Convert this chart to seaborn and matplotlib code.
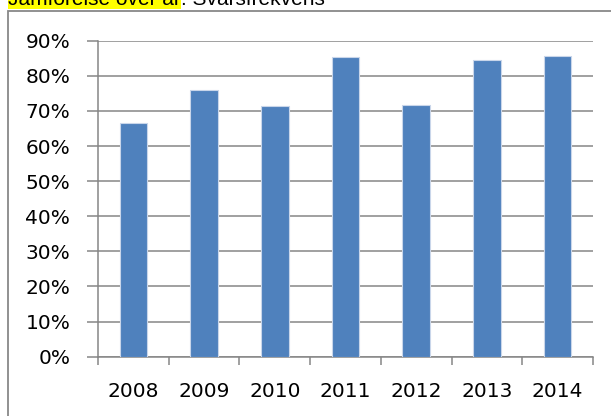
import pandas as pd
import numpy as np
import matplotlib
matplotlib.use("Agg")
import matplotlib.pyplot as plt
import seaborn as sns
from matplotlib.patches import Rectangle

# Chart data
years = ['2008', '2009', '2010', '2011', '2012', '2013', '2014']
response_rate = [0.665, 0.760, 0.715, 0.855, 0.718, 0.844, 0.857]
y_ticks = [0.0, 0.1, 0.2, 0.3, 0.4, 0.5, 0.6, 0.7, 0.8, 0.9]
title_marked = 'Jämförelse över år'
title_rest = ': Svarsfrekvens'

df = pd.DataFrame({'year': years, 'rate': response_rate})

sns.set_style('white')
plt.rcParams['font.family'] = ['DejaVu Sans']
plt.rcParams['text.color'] = 'black'
plt.rcParams['xtick.labelcolor'] = 'black'
plt.rcParams['ytick.labelcolor'] = 'black'

W, H = 611, 416
fig = plt.figure(figsize=(W / 100, H / 100), dpi=100)
ax = fig.add_axes([98 / W, 1 - 356.7 / H, (593 - 98) / W, (356.7 - 40.7) / H])

grid_col = '#868686'
sns.barplot(data=df, x='year', y='rate', color='#4F81BD', width=0.39,
            saturation=1, edgecolor='#c9d6ea', linewidth=0.8, ax=ax, zorder=3)

ax.set_ylim(0, 0.9)
ax.set_xlim(-0.5, len(years) - 0.5)
ax.set_yticks(y_ticks)
ax.set_yticklabels([f'{int(round(t * 100))}%' for t in y_ticks])
ax.yaxis.grid(True, color=grid_col, linewidth=1.1, zorder=0)
ax.set_axisbelow(True)
ax.set_xlabel('')
ax.set_ylabel('')

for s in ['top', 'right']:
    ax.spines[s].set_visible(False)
for s in ['left', 'bottom']:
    ax.spines[s].set_color(grid_col)
    ax.spines[s].set_linewidth(1.1)

ax.tick_params(axis='y', which='major', direction='out', length=8, width=1.1,
               color=grid_col, labelsize=14.5, pad=12, left=True)
ax.tick_params(axis='x', which='major', length=0, labelsize=14.5, pad=18)
ax.set_xticks(np.arange(-0.5, len(years), 1.0), minor=True)
ax.tick_params(axis='x', which='minor', direction='out', length=6, width=1.1,
               color=grid_col, bottom=True)

# outer chart frame
fig.patches.append(Rectangle((8 / W, -0.1), 1.2, 1 - 11 / H + 0.1,
                             transform=fig.transFigure, fill=False,
                             edgecolor='#888888', linewidth=1.3))

# title above the frame, partly cut off at the top
t1 = fig.text(8 / W, 1 - 5 / H, title_marked, fontsize=15, va='baseline',
              ha='left', family=['Liberation Sans', 'DejaVu Sans'],
              bbox=dict(facecolor='#ffff00', edgecolor='none', pad=0))
fig.canvas.draw()
ax.annotate(title_rest, xy=(1, 0), xycoords=t1, va='bottom', ha='left',
            fontsize=15, family=['Liberation Sans', 'DejaVu Sans'],
            annotation_clip=False)

fig.savefig('out.png', dpi=100)
plt.close(fig)
